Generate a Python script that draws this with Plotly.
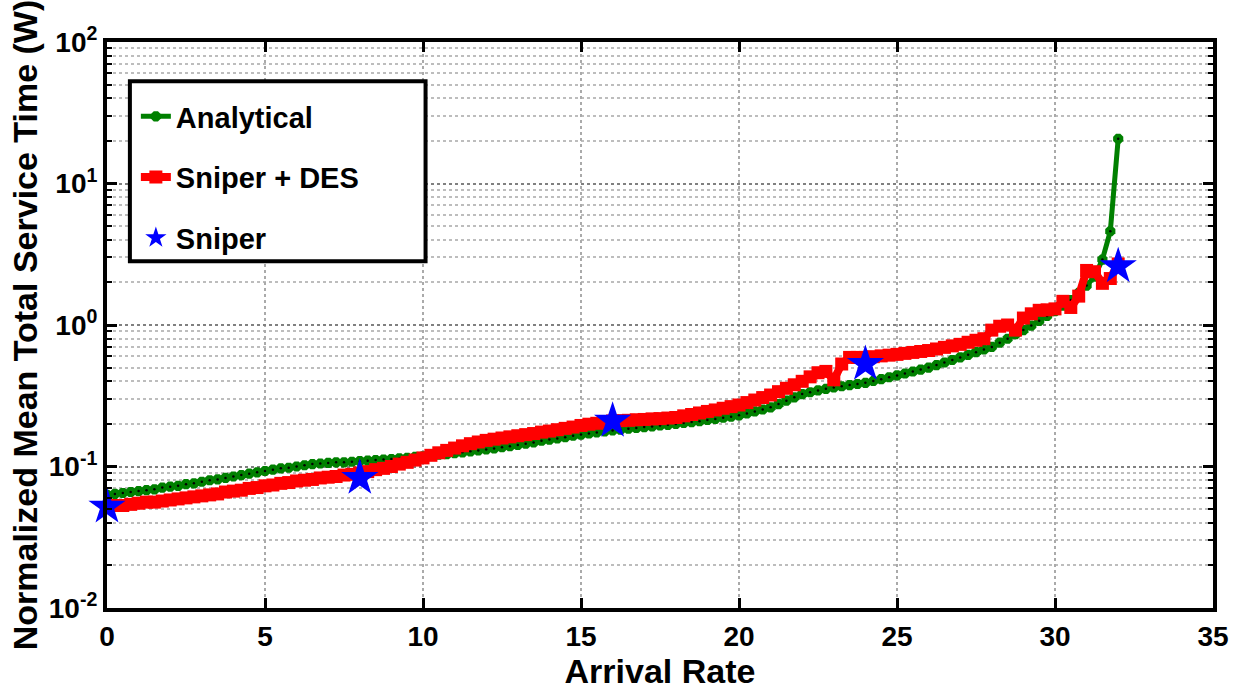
import numpy as np
import plotly.graph_objects as go

# Arrival rates (step 0.25 from 0 to 32)
arrival = [i * 0.25 for i in range(129)]

analytical = [
    0.063, 0.064, 0.065, 0.066, 0.067, 0.068, 0.069, 0.071, 0.072, 0.073,
    0.075, 0.076, 0.078, 0.080, 0.081, 0.083, 0.085, 0.087, 0.089, 0.091,
    0.093, 0.095, 0.097, 0.098, 0.100, 0.102, 0.104, 0.105, 0.106, 0.107,
    0.107, 0.108, 0.109, 0.110, 0.111, 0.112, 0.113, 0.114, 0.115, 0.117,
    0.118, 0.119, 0.121, 0.122, 0.124, 0.126, 0.128, 0.130, 0.132, 0.134,
    0.137, 0.139, 0.142, 0.145, 0.148, 0.152, 0.155, 0.158, 0.161, 0.165,
    0.168, 0.171, 0.174, 0.177, 0.180, 0.182, 0.185, 0.187, 0.190, 0.192,
    0.195, 0.197, 0.200, 0.203, 0.206, 0.209, 0.213, 0.217, 0.221, 0.225,
    0.230, 0.237, 0.245, 0.253, 0.262, 0.276, 0.292, 0.308, 0.325, 0.335,
    0.345, 0.354, 0.362, 0.369, 0.376, 0.383, 0.390, 0.402, 0.414, 0.427,
    0.440, 0.454, 0.469, 0.484, 0.500, 0.521, 0.543, 0.566, 0.590, 0.615,
    0.643, 0.671, 0.700, 0.750, 0.800, 0.860, 0.920, 0.990, 1.07, 1.16,
    1.25, 1.37, 1.50, 1.69, 1.90, 2.20, 2.90, 4.60, 20.7,
]

sniper_des = [
    0.052, 0.053, 0.053, 0.054, 0.055, 0.056, 0.056, 0.057, 0.058, 0.059,
    0.060, 0.061, 0.062, 0.063, 0.064, 0.066, 0.067, 0.068, 0.070, 0.071,
    0.073, 0.074, 0.076, 0.077, 0.079, 0.080, 0.081, 0.083, 0.084, 0.085,
    0.087, 0.088, 0.090, 0.092, 0.095, 0.097, 0.100, 0.104, 0.107, 0.111,
    0.115, 0.120, 0.125, 0.130, 0.135, 0.140, 0.145, 0.149, 0.153, 0.156,
    0.159, 0.162, 0.165, 0.168, 0.171, 0.175, 0.178, 0.182, 0.186, 0.190,
    0.195, 0.199, 0.202, 0.206, 0.210, 0.211, 0.212, 0.214, 0.215, 0.217,
    0.218, 0.220, 0.222, 0.228, 0.233, 0.239, 0.245, 0.251, 0.258, 0.265,
    0.272, 0.283, 0.295, 0.307, 0.320, 0.338, 0.357, 0.378, 0.400, 0.430,
    0.460, 0.470, 0.410, 0.530, 0.590, 0.590, 0.590, 0.597, 0.605, 0.612,
    0.620, 0.630, 0.640, 0.650, 0.660, 0.677, 0.695, 0.712, 0.730, 0.755,
    0.780, 0.800, 0.920, 0.980, 1.00, 0.920, 1.12, 1.20, 1.27, 1.28,
    1.30, 1.47, 1.33, 1.60, 2.43, 2.38, 1.97, 2.13, 2.70,
]

sniper_x = [0, 8, 16, 24, 32]
sniper_y = [0.052, 0.083, 0.21, 0.53, 2.6]

x_ticks = [0, 5, 10, 15, 20, 25, 30, 35]
y_ticks = [0.01, 0.1, 1, 10, 100]
y_ticktext = ["10<sup>-2</sup>", "10<sup>-1</sup>", "10<sup>0</sup>", "10<sup>1</sup>", "10<sup>2</sup>"]
y_minor = [m * 10.0 ** e for e in range(-2, 2) for m in range(2, 10)]

FONT = "Liberation Sans, Arial, sans-serif"

fig = go.Figure()
fig.add_trace(go.Scatter(
    x=arrival, y=analytical, name="Analytical", mode="lines+markers",
    line=dict(color="#008000", width=5),
    marker=dict(symbol="octagon", size=11, color="#008000"),
    legendgroup="a",
))
fig.add_trace(go.Scatter(
    x=arrival, y=analytical, mode="markers", showlegend=False, hoverinfo="skip",
    marker=dict(symbol="circle", size=2.5, color="black"),
    legendgroup="a",
))
fig.add_trace(go.Scatter(
    x=arrival, y=sniper_des, name="Sniper + DES", mode="lines+markers",
    line=dict(color="#ff0000", width=8),
    marker=dict(symbol="square", size=13, color="#ff0000"),
    legendgroup="b",
))
fig.add_trace(go.Scatter(
    x=sniper_x, y=sniper_y, name="Sniper", mode="markers",
    marker=dict(symbol="star", size=28, color="#0000ff", line=dict(width=0)),
    cliponaxis=False, legendgroup="c",
))

axis_common = dict(
    showline=True, linecolor="black", linewidth=4, mirror="allticks",
    ticks="inside", tickcolor="black", tickwidth=3, ticklen=10,
    tickfont=dict(family=FONT, size=28, color="black", weight="bold"),
    zeroline=False,
)

fig.update_xaxes(
    range=[0, 35], tickvals=x_ticks,
    showgrid=True, gridcolor="#aaaaaa", gridwidth=2, griddash="dot",
    title=dict(text="Arrival Rate", font=dict(family=FONT, size=34, color="black", weight="bold"), standoff=6),
    **axis_common,
)
fig.update_yaxes(
    type="log", range=[-2, 2], tickvals=y_ticks, ticktext=y_ticktext,
    showgrid=True, gridcolor="#808080", gridwidth=2, griddash="dot",
    minor=dict(tickvals=y_minor, ticks="inside", ticklen=5, tickwidth=2, tickcolor="black",
               showgrid=True, gridcolor="#bdbdbd", gridwidth=2, griddash="dot"),
    title=dict(text="Normalized Mean Total Service Time (W)",
               font=dict(family=FONT, size=34, color="black", weight="bold"), standoff=2),
    **axis_common,
)

# legend frame
fig.add_shape(type="rect", xref="paper", yref="paper",
              x0=(130 - 107) / 1111, x1=(427 - 107) / 1111,
              y0=(620 - 266) / 578, y1=(620 - 82) / 578,
              line=dict(color="black", width=4), fillcolor="white", layer="above")

fig.update_layout(
    width=1241, height=693,
    margin=dict(l=107, r=23, t=42, b=73),
    plot_bgcolor="white", paper_bgcolor="white",
    font=dict(family=FONT, color="black"),
    showlegend=True,
    legend=dict(
        x=(136 - 107) / 1111, y=(620 - 92) / 578, xanchor="left", yanchor="top",
        bgcolor="rgba(0,0,0,0)", borderwidth=0,
        font=dict(family=FONT, size=29, color="black", weight="bold"),
        traceorder="grouped", tracegroupgap=20, itemwidth=30,
    ),
)

fig.write_html("out.html")
